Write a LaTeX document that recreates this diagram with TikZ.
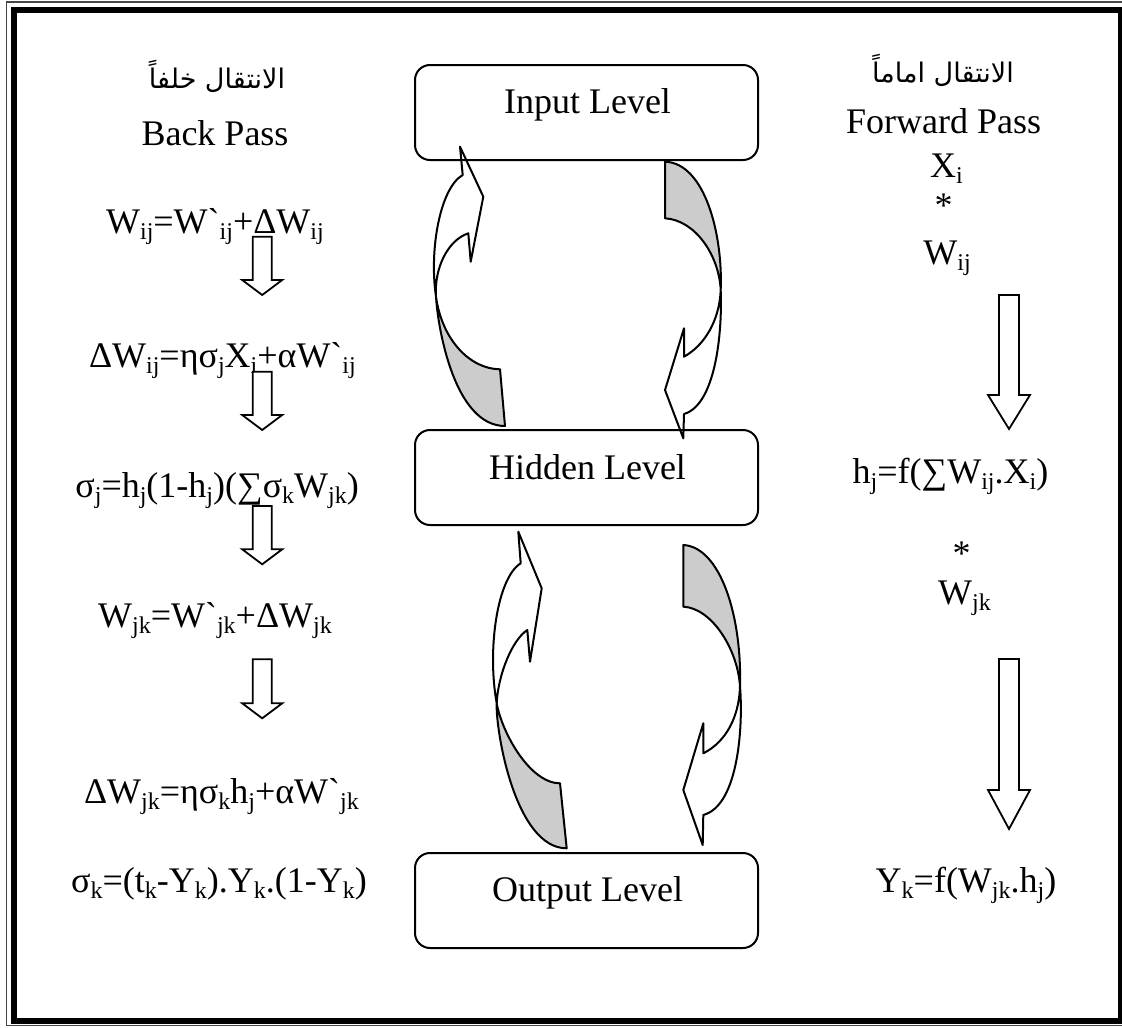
\documentclass[tikz,border=0pt]{standalone}
\usepackage{fontspec}
\newfontfamily\tms{Liberation Serif}
\newfontfamily\arabicfont[Script=Arabic]{DejaVu Sans}
\TeXXeTstate=1
\definecolor{ribbongray}{RGB}{204,204,204}
\definecolor{edgegray}{RGB}{70,70,70}
\newcommand\sbs[1]{\raisebox{-6pt}{\fontsize{24}{24}\selectfont #1}}
\newcommand\blkarrow[6]{% x, top, base, tip, half shaft, half head
  \draw[blk] ({#1-#5},#2) -- ({#1+#5},#2) -- ({#1+#5},#3) -- ({#1+#6},#3) -- (#1,#4)
    -- ({#1-#6},#3) -- ({#1-#5},#3) -- cycle;}
\tikzset{
  lvl/.style={draw, line width=2pt, rounded corners=15pt, minimum width=343pt,
    minimum height=95pt, inner sep=0pt},
  txt/.style={font=\tms\fontsize{36}{40}\selectfont, inner sep=0pt, anchor=base},
  artxt/.style={font=\arabicfont\fontsize{27}{32}\selectfont, inner sep=0pt, anchor=center},
  arr/.style={line width=2pt, line join=round},
  ribbon/.style={fill=ribbongray},
  blk/.style={line width=1.8pt, fill=white, line join=miter},
}
\begin{document}
\begin{tikzpicture}[x=1pt,y=-1pt]
\useasboundingbox (0,0) rectangle (1122,1028);
% frame
\draw[edgegray, line width=1.5pt] (6.5,2) rectangle (1128,1025.5);
\draw[line width=6pt] (14,9.5) rectangle (1121,1020.5);

% level boxes
\node[lvl] (inp) at (586.5,112.5) {};
\node[lvl] (hid) at (586.5,477.5) {};
\node[lvl] (out) at (586.5,900.5) {};
\node[txt] (inpT) at (587.5,113) {Input Level};
\node[txt] (hidT) at (587.5,479) {Hidden Level};
\node[txt] (outT) at (587.5,901) {Output Level};

% ---- top-left curved arrow (up)
\path[ribbon] (436,296.7) .. controls (438,330) and (455,426) .. (505,426) -- (500,369.3)
  .. controls (470,369) and (442,340) .. (436,296.7) -- cycle;
\draw[arr] (505,426) -- (500,369.3) .. controls (470,369) and (442,340) .. (436,296.7)
  .. controls (429,250) and (440,188) .. (462.7,175) -- (460,146.7) -- (483.3,196.7)
  -- (470.7,261.7) -- (468.3,233.3) .. controls (448,240) and (434,268) .. (436,296.7)
  .. controls (438,330) and (455,426) .. (505,426) -- cycle;

% ---- top-right curved arrow (down)
\path[ribbon] (665,161.7) .. controls (705,163) and (723,235) .. (720.7,290)
  .. controls (719,255) and (695,220) .. (665,218.3) -- cycle;
\draw[arr] (665,218.3) -- (665,161.7) .. controls (705,163) and (723,235) .. (720.7,290)
  .. controls (719.5,320) and (705,345) .. (684,356.7) -- (684,328.3) -- (665,390)
  -- (683.3,438.3) -- (684,414) .. controls (715,405) and (722.5,335) .. (720.7,290)
  .. controls (719,255) and (695,220) .. (665,218.3) -- cycle;

% ---- bottom-left curved arrow (up)
\path[ribbon] (496.7,703.3) .. controls (495.5,730) and (515,848.3) .. (566.7,848.3)
  -- (560,783.3) .. controls (530,783.3) and (502,733) .. (496.7,703.3) -- cycle;
\draw[arr] (566.7,848.3) -- (560,783.3) .. controls (530,783.3) and (502,733) .. (496.7,703.3)
  .. controls (487,650) and (497,578) .. (520.7,563.3) -- (518.3,531.7) -- (541.7,588.3)
  -- (530,661.7) -- (527.3,630) .. controls (512,640) and (498,675) .. (496.7,703.3)
  .. controls (495.5,730) and (515,848.3) .. (566.7,848.3) -- cycle;

% ---- bottom-right curved arrow (down)
\path[ribbon] (683.3,545) .. controls (720,547) and (742,615) .. (740,686.7)
  .. controls (738,650) and (712,608) .. (683.3,606.7) -- cycle;
\draw[arr] (683.3,606.7) -- (683.3,545) .. controls (720,547) and (742,615) .. (740,686.7)
  .. controls (738.5,725) and (720,745) .. (703.3,753.3) -- (703.3,723.3) -- (683.3,790)
  -- (702.7,845) -- (703.3,815) .. controls (740,805) and (743,720) .. (740,686.7)
  .. controls (738,650) and (712,608) .. (683.3,606.7) -- cycle;

% ---- left column (back pass)
\node[artxt] (arL) at (217,76) {\beginR الانتقال خلفاً\endR};
\node[txt] (back) at (215,145) {Back Pass};
\node[txt, anchor=base east] (l1) at (324,233) {W\sbs{ij}=W`\sbs{ij}+ΔW\sbs{ij}};
\node[txt, anchor=base east] (l2) at (356,367) {ΔW\sbs{ij}=ησ\sbs{j}X\sbs{i}+αW`\sbs{ij}};
\node[txt, anchor=base east] (l3) at (359,497) {σ\sbs{j}=h\sbs{j}(1-h\sbs{j})(∑σ\sbs{k}W\sbs{jk})};
\node[txt, anchor=base east] (l4) at (332,627) {W\sbs{jk}=W`\sbs{jk}+ΔW\sbs{jk}};
\node[txt, anchor=base east] (l5) at (359,803) {ΔW\sbs{jk}=ησ\sbs{k}h\sbs{j}+αW`\sbs{jk}};
\node[txt, anchor=base east] (l6) at (367,892) {σ\sbs{k}=(t\sbs{k}-Y\sbs{k}).Y\sbs{k}.(1-Y\sbs{k})};
\blkarrow{262.2}{236.7}{280}{295}{9.5}{20}
\blkarrow{262.2}{371.7}{415}{430}{9.5}{20}
\blkarrow{262.2}{506}{549.3}{564.3}{9.5}{20}
\blkarrow{262.2}{659.3}{703.3}{718.3}{9.5}{20}

% ---- right column (forward pass)
\node[artxt] (arR) at (943,70) {\beginR الانتقال اماماً\endR};
\node[txt, anchor=base west] (fwd) at (846,133) {Forward Pass};
\node[txt, anchor=base west] (xi) at (930,177) {X\sbs{i}};
\node[txt] (st1) at (943.5,217) {*};
\node[txt] (wij) at (947,264) {W\sbs{ij}};
\node[txt, anchor=base west] (hj) at (852.5,483) {h\sbs{j}=f(∑W\sbs{ij}.X\sbs{i})};
\node[txt] (st2) at (961.5,565) {*};
\node[txt, anchor=base west] (wjk) at (938,604) {W\sbs{jk}};
\node[txt] (yk) at (966,892) {Y\sbs{k}=f(W\sbs{jk}.h\sbs{j})};
\blkarrow{1009}{295}{395}{429}{10}{21}
\blkarrow{1009}{659}{790}{829}{10}{21}
\end{tikzpicture}
\end{document}
